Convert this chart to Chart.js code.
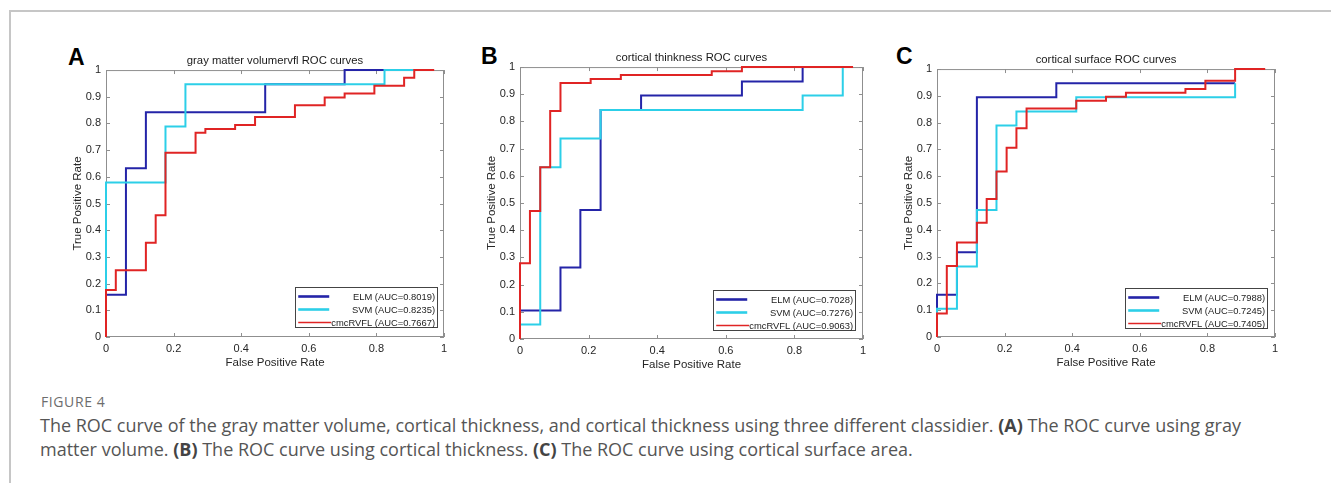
<!DOCTYPE html>
<html>
<head>
<meta charset="utf-8">
<script src="https://cdn.jsdelivr.net/npm/chart.js@4.4.0/dist/chart.umd.min.js"></script>
<style>
  body { margin: 0; background: #fff; width: 1331px; height: 483px; overflow: hidden; position: relative; font-family: "Liberation Sans", Arial, sans-serif; }
  .frame { position: absolute; left: 9px; top: 10px; width: 1330px; height: 480px; border-top: 2px solid #c6c6c6; border-left: 2px solid #c6c6c6; }
  canvas { position: absolute; }
  .letter { position: absolute; font-weight: bold; font-size: 23px; line-height: 23px; color: #000; }
  .figlabel { position: absolute; left: 41px; top: 392px; font-family: "Open Sans", sans-serif; font-size: 14px; letter-spacing: 0.6px; color: #6d6d6d; }
  .caption { position: absolute; left: 40px; top: 413px; font-family: "Open Sans", sans-serif; font-size: 18px; line-height: 24px; color: #555; white-space: nowrap; }
  .caption b { color: #444; }
</style>
</head>
<body>
<div class="frame"></div>
<div class="letter" style="left:68px;top:46px">A</div>
<div class="letter" style="left:481px;top:45px">B</div>
<div class="letter" style="left:896px;top:45px">C</div>
<canvas id="chartA"></canvas>
<canvas id="chartB"></canvas>
<canvas id="chartC"></canvas>
<div class="figlabel">FIGURE 4</div>
<div class="caption">The ROC curve of the gray matter volume, cortical thickness, and cortical thickness using three different classidier. <b>(A)</b> The ROC curve using gray<br>matter volume. <b>(B)</b> The ROC curve using cortical thickness. <b>(C)</b> The ROC curve using cortical surface area.</div>
<script>
// tick values
const xTickValues = [0, 0.2, 0.4, 0.6, 0.8, 1];
const yTickValues = [0, 0.1, 0.2, 0.3, 0.4, 0.5, 0.6, 0.7, 0.8, 0.9, 1];

const seriesNames = ['ELM', 'SVM', 'cmcRVFL'];
const seriesColors = ['#2424a8', '#2ccfe8', '#e02424'];

// panel A - gray matter volume
const aElmFpr = [0, 0.059, 0.118, 0.471, 0.706, 0.824];
const aElmTpr = [0.158, 0.632, 0.842, 0.947, 1, 1];
const aSvmFpr = [0, 0.176, 0.235, 0.824, 0.912];
const aSvmTpr = [0.579, 0.789, 0.947, 1, 1];
const aRvflFpr = [0, 0.029, 0.118, 0.147, 0.176, 0.265, 0.294, 0.382, 0.441, 0.559, 0.647, 0.706, 0.794, 0.882, 0.912, 0.971];
const aRvflTpr = [0.176, 0.25, 0.353, 0.456, 0.69, 0.765, 0.779, 0.794, 0.824, 0.868, 0.897, 0.912, 0.941, 0.971, 1, 1];
const aAuc = ['0.8019', '0.8235', '0.7667'];

// panel B - cortical thickness
const bElmFpr = [0, 0.118, 0.176, 0.235, 0.353, 0.647, 0.824];
const bElmTpr = [0.105, 0.263, 0.474, 0.842, 0.895, 0.947, 1];
const bSvmFpr = [0, 0.059, 0.118, 0.235, 0.824, 0.941];
const bSvmTpr = [0.053, 0.632, 0.737, 0.842, 0.895, 1];
const bRvflFpr = [0, 0.029, 0.059, 0.088, 0.118, 0.206, 0.294, 0.559, 0.647, 0.971];
const bRvflTpr = [0.279, 0.471, 0.632, 0.838, 0.941, 0.956, 0.971, 0.985, 1, 1];
const bAuc = ['0.7028', '0.7276', '0.9063'];

// panel C - cortical surface
const cElmFpr = [0, 0.059, 0.118, 0.353, 0.882];
const cElmTpr = [0.158, 0.316, 0.895, 0.947, 0.947];
const cSvmFpr = [0, 0.059, 0.118, 0.176, 0.235, 0.412, 0.882];
const cSvmTpr = [0.105, 0.263, 0.474, 0.789, 0.842, 0.895, 0.947];
const cRvflFpr = [0, 0.029, 0.059, 0.118, 0.147, 0.176, 0.206, 0.235, 0.265, 0.412, 0.5, 0.559, 0.735, 0.794, 0.882, 0.971];
const cRvflTpr = [0.088, 0.265, 0.353, 0.426, 0.515, 0.618, 0.706, 0.779, 0.853, 0.882, 0.897, 0.912, 0.926, 0.956, 1, 1];
const cAuc = ['0.7988', '0.7245', '0.7405'];

const FONT = '"Liberation Sans", Arial, sans-serif';

// turn roc knots into a stepped polyline (up first, then across)
function stepPoints(fpr, tpr) {
    const pts = [{ x: fpr[0], y: 0 }];
    for (let i = 0; i < fpr.length; i++) {
        if (i > 0) pts.push({ x: fpr[i], y: tpr[i - 1] });
        pts.push({ x: fpr[i], y: tpr[i] });
    }
    return pts;
}

// matlab like tick text: 0, 0.2, 1
function tickText(v) {
    return String(+Number(v).toFixed(2));
}

// box with inward ticks on all four sides
const axesBox = {
    id: 'axesBox',
    beforeDatasetsDraw(chart) {
        const { ctx, chartArea: a, scales } = chart;
        ctx.save();
        ctx.strokeStyle = '#8f8f8f';
        ctx.lineWidth = 1;
        ctx.strokeRect(a.left + 0.5, a.top + 0.5, a.right - a.left - 1, a.bottom - a.top - 1);
        ctx.beginPath();
        xTickValues.forEach(v => {
            const px = Math.round(scales.x.getPixelForValue(v)) + 0.5;
            ctx.moveTo(px, a.bottom); ctx.lineTo(px, a.bottom - 4);
            ctx.moveTo(px, a.top); ctx.lineTo(px, a.top + 4);
        });
        yTickValues.forEach(v => {
            const py = Math.round(scales.y.getPixelForValue(v)) + 0.5;
            ctx.moveTo(a.left, py); ctx.lineTo(a.left + 4, py);
            ctx.moveTo(a.right, py); ctx.lineTo(a.right - 4, py);
        });
        ctx.stroke();
        ctx.restore();
    }
};

// legend box in lower right corner
const legendBox = {
    id: 'legendBox',
    afterDatasetsDraw(chart, args, opts) {
        const { ctx, chartArea: a } = chart;
        ctx.save();
        ctx.font = '9.4px ' + FONT;
        const texts = seriesNames.map((n, i) => n + ' (AUC=' + opts.auc[i] + ')');
        const tw = Math.max(...texts.map(t => ctx.measureText(t).width));
        const w = 35 + tw + 3, h = 40;
        const x = a.right - opts.right - w;
        const y = a.bottom - opts.bottom - h;
        ctx.fillStyle = '#fff';
        ctx.fillRect(x, y, w, h);
        ctx.strokeStyle = '#444';
        ctx.lineWidth = 1;
        ctx.strokeRect(Math.round(x) + 0.5, Math.round(y) + 0.5, Math.round(w), Math.round(h));
        texts.forEach((t, i) => {
            const ry = Math.round(y + 9 + i * 13) + 0.5;
            ctx.strokeStyle = seriesColors[i];
            ctx.lineWidth = i === 2 ? 1.6 : 2.6;
            ctx.beginPath();
            ctx.moveTo(x + 3, ry);
            ctx.lineTo(x + (i === 2 ? 36 : 34), ry);
            ctx.stroke();
            ctx.fillStyle = '#222';
            ctx.textAlign = 'right';
            ctx.textBaseline = 'middle';
            ctx.fillText(t, x + w - 2, ry + 0.5);
        });
        ctx.restore();
    }
};

function makeChart(id, pos, title, series, auc, legendOff) {
    const canvas = document.getElementById(id);
    // pos: chart area left, top, right, bottom on the page
    const padL = 45, padT = 25, padR = 10, padB = 35;
    const w = pos[2] - pos[0] + padL + padR;
    const h = pos[3] - pos[1] + padT + padB;
    canvas.width = w; canvas.height = h;
    canvas.style.left = (pos[0] - padL) + 'px';
    canvas.style.top = (pos[1] - padT) + 'px';
    canvas.style.width = w + 'px';
    canvas.style.height = h + 'px';

    const datasets = series.map((s, i) => ({
        label: seriesNames[i],
        data: stepPoints(s[0], s[1]),
        showLine: true,
        borderColor: seriesColors[i],
        backgroundColor: seriesColors[i],
        borderWidth: 2,
        pointRadius: 0,
        fill: false,
        tension: 0,
        clip: 4,
        order: 2 - i
    }));

    return new Chart(canvas, {
        type: 'scatter',
        data: { datasets: datasets },
        options: {
            responsive: false,
            animation: false,
            devicePixelRatio: 1,
            events: [],
            layout: { padding: { left: 0, top: 0, right: padR, bottom: 0 } },
            scales: {
                x: {
                    type: 'linear', min: 0, max: 1,
                    afterBuildTicks: sc => { sc.ticks = xTickValues.map(v => ({ value: v })); },
                    afterFit: sc => { sc.height = padB; },
                    grid: { display: false, drawTicks: false },
                    border: { display: false },
                    ticks: { padding: 5, color: '#262626', font: { family: FONT, size: 11 }, maxRotation: 0, callback: tickText },
                    title: { display: true, text: 'False Positive Rate', color: '#262626', font: { family: FONT, size: 11.5 }, padding: { top: 0, bottom: 2 } }
                },
                y: {
                    type: 'linear', min: 0, max: 1,
                    afterBuildTicks: sc => { sc.ticks = yTickValues.map(v => ({ value: v })); },
                    afterFit: sc => { sc.width = padL; },
                    grid: { display: false, drawTicks: false },
                    border: { display: false },
                    ticks: { padding: 5, color: '#262626', font: { family: FONT, size: 11 }, callback: tickText },
                    title: { display: true, text: 'True Positive Rate', color: '#262626', font: { family: FONT, size: 11.5 }, padding: { top: 10, bottom: 0 } }
                }
            },
            plugins: {
                legend: { display: false },
                tooltip: { enabled: false },
                title: {
                    display: true, text: title, fullSize: false, color: '#1a1a1a',
                    font: { family: FONT, size: 11.3, weight: 'normal' },
                    padding: { top: 9.2, bottom: 2.3 }
                },
                legendBox: { auc: auc, right: legendOff[0], bottom: legendOff[1] }
            }
        },
        plugins: [axesBox, legendBox]
    });
}

makeChart('chartA', [106, 70, 444, 337], 'gray matter volumervfl ROC curves',
    [[aElmFpr, aElmTpr], [aSvmFpr, aSvmTpr], [aRvflFpr, aRvflTpr]], aAuc, [7, 10]);
makeChart('chartB', [520, 67, 863, 339], 'cortical thinkness ROC curves',
    [[bElmFpr, bElmTpr], [bSvmFpr, bSvmTpr], [bRvflFpr, bRvflTpr]], bAuc, [8, 9]);
makeChart('chartC', [937, 69, 1275, 337], 'cortical surface ROC curves',
    [[cElmFpr, cElmTpr], [cSvmFpr, cSvmTpr], [cRvflFpr, cRvflTpr]], cAuc, [8, 9]);
</script>
</body>
</html>
